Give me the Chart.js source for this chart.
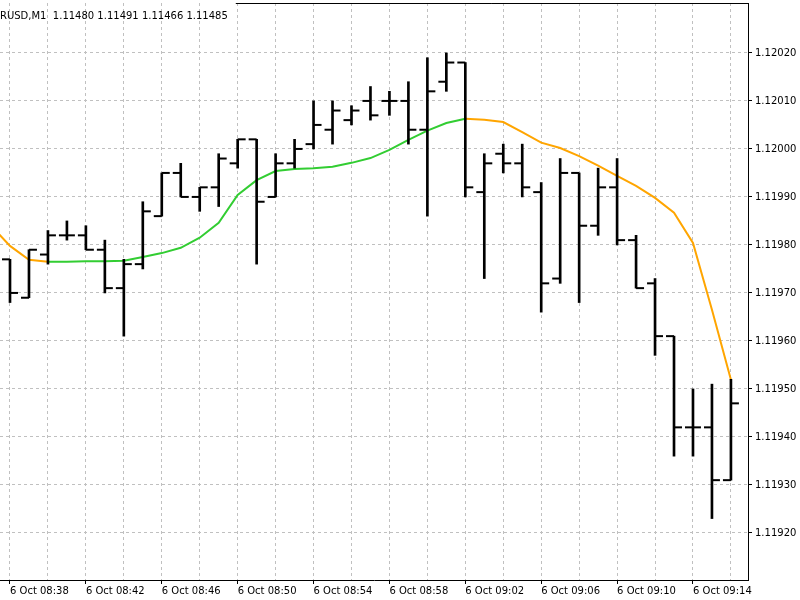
<!DOCTYPE html>
<html>
<head>
<meta charset="utf-8">
<title>EURUSD,M1</title>
<script src="https://cdn.jsdelivr.net/npm/chart.js@4.4.1/dist/chart.umd.min.js"></script>
<style>
  html,body{margin:0;padding:0;background:#fff;}
  canvas{display:block;}
</style>
</head>
<body>
<canvas id="chart" width="800" height="600"></canvas>
<script>
// M1 bars, 6 Oct 08:37 .. 09:16 (the 08:37 bar sits left of the frame, only its MA point is seen)
const times = ["08:37","08:38","08:39","08:40","08:41","08:42","08:43","08:44","08:45","08:46",
               "08:47","08:48","08:49","08:50","08:51","08:52","08:53","08:54","08:55","08:56",
               "08:57","08:58","08:59","09:00","09:01","09:02","09:03","09:04","09:05","09:06",
               "09:07","09:08","09:09","09:10","09:11","09:12","09:13","09:14","09:15","09:16"];
const xLabels = ["6 Oct 08:38","6 Oct 08:42","6 Oct 08:46","6 Oct 08:50","6 Oct 08:54",
                 "6 Oct 08:58","6 Oct 09:02","6 Oct 09:06","6 Oct 09:10","6 Oct 09:14"];

const opens  = [null,1.11977,1.11969,1.11978,1.11982,1.11982,1.11979,1.11971,1.11976,1.11986,
                1.11995,1.11990,1.11992,1.11997,1.12002,1.11990,1.11997,1.12001,1.12004,1.12006,
                1.12010,1.12010,1.12010,1.12004,1.12014,1.12018,1.11991,1.11999,1.11997,1.11991,
                1.11973,1.11995,1.11984,1.11992,1.11981,1.11972,1.11961,1.11942,1.11942,1.11931];
const highs  = [null,1.11977,1.11979,1.11983,1.11985,1.11984,1.11981,1.11977,1.11989,1.11995,
                1.11997,1.11992,1.11999,1.12002,1.12002,1.11999,1.12002,1.12010,1.12010,1.12009,
                1.12013,1.12012,1.12014,1.12019,1.12020,1.12018,1.11999,1.12001,1.12001,1.11993,
                1.11998,1.11995,1.11996,1.11998,1.11982,1.11973,1.11961,1.11950,1.11951,1.11952];
const lows   = [null,1.11968,1.11969,1.11976,1.11981,1.11979,1.11970,1.11961,1.11975,1.11986,
                1.11990,1.11987,1.11988,1.11996,1.11976,1.11990,1.11996,1.12000,1.12001,1.12005,
                1.12006,1.12007,1.12001,1.11986,1.12012,1.11990,1.11973,1.11995,1.11990,1.11966,
                1.11972,1.11968,1.11982,1.11980,1.11971,1.11957,1.11936,1.11936,1.11923,1.11931];
const closes = [null,1.11970,1.11979,1.11982,1.11982,1.11979,1.11971,1.11976,1.11987,1.11995,
                1.11990,1.11992,1.11998,1.12002,1.11989,1.11997,1.12000,1.12005,1.12008,1.12008,
                1.12007,1.12010,1.12004,1.12012,1.12018,1.11992,1.11997,1.11997,1.11992,1.11972,
                1.11995,1.11984,1.11992,1.11981,1.11971,1.11961,1.11942,1.11942,1.11931,1.11947];
// moving average (green while rising, orange while falling)
const ma     = [1.119840,1.119798,1.119769,1.119765,1.119765,1.119766,1.119766,1.119767,1.119775,1.119783,
                1.119794,1.119815,1.119846,1.119904,1.119935,1.119954,1.119958,1.119960,1.119963,1.119971,
                1.119981,1.119998,1.120019,1.120038,1.120054,1.120063,1.120061,1.120056,1.120035,1.120013,
                1.120002,1.119985,1.119965,1.119944,1.119923,1.119898,1.119867,1.119804,1.119665,1.119519];

const yTicks = [1.11920,1.11930,1.11940,1.11950,1.11960,1.11970,1.11980,1.11990,1.12000,1.12010,1.12020];
const titleSymbol = "RUSD,M1";
const titleQuote  = ["1.11480","1.11491","1.11466","1.11485"];

const GREEN = "#32cd32", ORANGE = "#ffa500", GRID = "#c0c0c0";
const TICK_OFF = 0.21; // open/close tick offset, in bars

Chart.defaults.font.family = "DejaVu Sans";
Chart.defaults.font.size = 10;
Chart.defaults.color = "#000";

const idx = times.map((t,i)=>i);
const has = i => opens[i] != null;

const titlePlugin = {
  id: "mtTitle",
  afterDraw(chart){
    const c = chart.ctx, a = chart.chartArea;
    c.save();
    c.font = "10px DejaVu Sans";
    c.fillStyle = "#000";
    c.textBaseline = "alphabetic";
    const txt = titleSymbol + "  " + titleQuote.join(" ");
    c.fillText(txt, 0, 19);
    const w = c.measureText(txt).width;
    // top frame line (the symbol caption sits over its left part)
    c.strokeStyle = "#000"; c.lineWidth = 1;
    c.beginPath(); c.moveTo(w + 8, a.top + 0.5); c.lineTo(a.right, a.top + 0.5); c.stroke();
    c.restore();
  }
};

new Chart(document.getElementById("chart"), {
  type: "scatter",
  data: {
    datasets: [
      {
        type: "bar", label: "range", order: 1,
        data: idx.filter(has).map(i=>({x:i, y:[lows[i], highs[i]]})),
        backgroundColor: "#000", borderWidth: 0, barThickness: 2
      },
      {
        type: "scatter", label: "open", order: 0,
        data: idx.filter(has).map(i=>({x:i - TICK_OFF, y:opens[i]})),
        pointStyle: "line", pointRadius: 4, pointBorderWidth: 2, pointBorderColor: "#000"
      },
      {
        type: "scatter", label: "close", order: 0,
        data: idx.filter(has).map(i=>({x:i + TICK_OFF, y:closes[i]})),
        pointStyle: "line", pointRadius: 4, pointBorderWidth: 2, pointBorderColor: "#000"
      },
      {
        type: "line", label: "MA", order: 5,
        data: idx.map(i=>({x:i, y:ma[i]})),
        borderWidth: 2, pointRadius: 0, tension: 0, showLine: true,
        segment: { borderColor: s => s.p1.parsed.y >= s.p0.parsed.y ? GREEN : ORANGE }
      }
    ]
  },
  options: {
    responsive: false, animation: false, devicePixelRatio: 1,
    layout: { autoPadding: false, padding: { top: 3, left: 0, right: 0, bottom: 0 } },
    plugins: { legend: { display: false }, tooltip: { enabled: false } },
    scales: {
      x: {
        type: "linear", min: 0.473, max: 39.9, offset: false,
        afterBuildTicks: s => { s.ticks = idx.filter(i => i % 2 === 1).map(i => ({value:i})); },
        afterFit: s => { s.height = 20; s.paddingLeft = 0; s.paddingRight = 0; },
        ticks: {
          autoSkip: false, maxRotation: 0, minRotation: 0, align: "start", padding: 1, color: "#000",
          callback: v => { const l = "6 Oct " + times[v]; return xLabels.includes(l) ? l : ""; }
        },
        grid: {
          color: GRID, offset: false, tickLength: 4, tickBorderDash: [],
          tickColor: c => (c.tick && c.tick.label) ? "#000" : "rgba(0,0,0,0)"
        },
        border: { display: true, color: "#000", dash: [3,3] }
      },
      y: {
        type: "linear", position: "right", min: 1.119102, max: 1.120304,
        afterBuildTicks: s => { s.ticks = yTicks.map(v => ({value:v})); },
        afterFit: s => { s.width = 52; s.paddingTop = 0; s.paddingBottom = 0; },
        ticks: { padding: 3, color: "#000", callback: v => v.toFixed(5) },
        grid: { color: GRID, tickLength: 4, tickColor: "#000", tickBorderDash: [] },
        border: { display: true, color: "#000", dash: [3,3] }
      }
    }
  },
  plugins: [titlePlugin]
});
</script>
</body>
</html>
